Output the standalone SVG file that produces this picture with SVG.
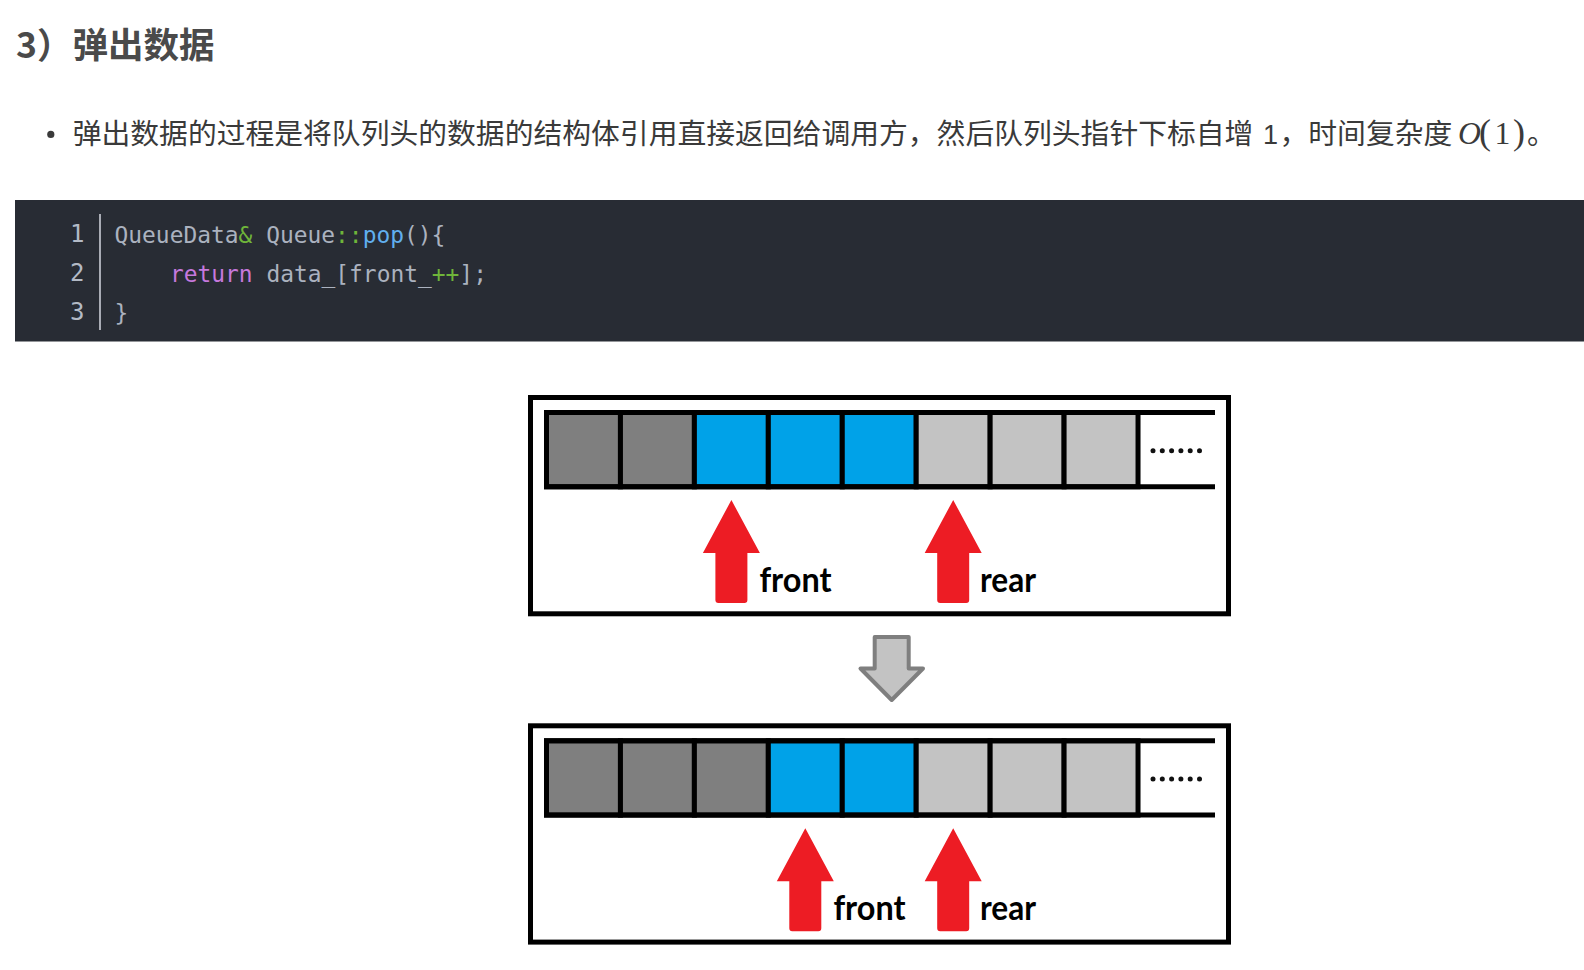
<svg xmlns="http://www.w3.org/2000/svg" width="1584" height="970" viewBox="0 0 1584 970">
  <style>
    .title { font-family: "Noto Sans CJK SC", "Noto Sans", sans-serif; font-weight: 700; font-size: 35.5px; fill: #4a4a4a; }
    .body { font-family: "Noto Sans CJK SC", "Noto Sans", sans-serif; font-size: 28.8px; fill: #3a3a3a; }
    .digit { font-family: "Liberation Sans", "Noto Sans", sans-serif; font-size: 27px; fill: #3a3a3a; }
    .math { font-family: "Liberation Serif", "DejaVu Serif", serif; font-size: 31.7px; fill: #3a3a3a; }
    .mathit { font-style: italic; }
    .paren { font-size: 36px; }
    .lnum { font-family: "DejaVu Sans Mono", "Liberation Mono", monospace; font-size: 24px; fill: #b3bac6; text-anchor: end; }
    .code { font-family: "DejaVu Sans Mono", "Liberation Mono", monospace; font-size: 22.9px; fill: #abb2bf; white-space: pre; }
    .op { fill: #6fb53a; }
    .fn { fill: #61afef; }
    .kw { fill: #c678dd; }
    .frame { fill: #ffffff; stroke: #000000; stroke-width: 5; }
    .rail { stroke: #000000; stroke-width: 5; }
    .cell { stroke: #000000; stroke-width: 5; }
    .d { fill: #7f7f7f; }
    .b { fill: #00a2e8; }
    .l { fill: #c3c3c3; }
    .dot { fill: #111111; }
    .ptr { fill: #ed1c24; }
    .lbl { font-family: "Lato", "Liberation Sans", sans-serif; font-weight: 700; font-size: 34px; fill: #000000; }
    .step { fill: #c3c3c3; stroke: #7f7f7f; stroke-width: 4; stroke-linejoin: round; }
  </style>
  <defs>
    <path id="redArrow" class="ptr" d="M0,0 L28.5,53 L16,53 L16,100 Q16,103 13,103 L-13,103 Q-16,103 -16,100 L-16,53 L-28.5,53 Z"/>
    <g id="dots">
      <circle class="dot" cx="0" cy="0" r="2.5"/>
      <circle class="dot" cx="9.3" cy="0" r="2.5"/>
      <circle class="dot" cx="18.6" cy="0" r="2.5"/>
      <circle class="dot" cx="27.9" cy="0" r="2.5"/>
      <circle class="dot" cx="37.2" cy="0" r="2.5"/>
      <circle class="dot" cx="46.5" cy="0" r="2.5"/>
    </g>
  </defs>

  <rect x="0" y="0" width="1584" height="970" fill="#ffffff"/>

  <g id="heading">
    <text class="title" x="16" y="58">3）弹出数据</text>
  </g>

  <g id="paragraph">
    <circle cx="50.8" cy="134.4" r="3.6" fill="#3a3a3a"/>
    <text class="body" x="72.7" y="143.5">弹出数据的过程是将队列头的数据的结构体引用直接返回给调用方，然后队列头指针下标自增</text>
    <text class="digit" x="1263" y="143.5">1</text>
    <text class="body" x="1279.5" y="143.5">，时间复杂度</text>
    <text class="math mathit" x="1458" y="143.5">O</text>
    <text class="math" y="143.5"><tspan class="paren" x="1479">(</tspan><tspan x="1494.5">1</tspan><tspan class="paren" x="1513">)</tspan></text>
    <text class="body" x="1527" y="143.5">。</text>
  </g>

  <g id="code-block">
    <rect x="15" y="200" width="1569" height="141.5" fill="#282c34"/>
    <line x1="100" y1="214" x2="100" y2="330" stroke="#b8bcc4" stroke-width="1.8"/>
    <text class="lnum" x="84.5" y="241.7">1</text>
    <text class="lnum" x="84.5" y="281">2</text>
    <text class="lnum" x="84.5" y="320.3">3</text>
    <text class="code" x="114.5" y="243">QueueData<tspan class="op">&amp;</tspan> Queue<tspan class="op">::</tspan><tspan class="fn">pop</tspan>(){</text>
    <text class="code" x="169.9" y="282"><tspan class="kw">return</tspan> data_[front_<tspan class="op">++</tspan>];</text>
    <text class="code" x="114.5" y="321">}</text>
  </g>

  <g id="state-before">
    <rect class="frame" x="530.5" y="397.5" width="698" height="216.3"/>
    <rect class="cell d" x="546.5" y="412.5" width="73.94" height="74.3"/>
    <rect class="cell d" x="620.44" y="412.5" width="73.94" height="74.3"/>
    <rect class="cell b" x="694.38" y="412.5" width="73.94" height="74.3"/>
    <rect class="cell b" x="768.32" y="412.5" width="73.94" height="74.3"/>
    <rect class="cell b" x="842.26" y="412.5" width="73.94" height="74.3"/>
    <rect class="cell l" x="916.2" y="412.5" width="73.94" height="74.3"/>
    <rect class="cell l" x="990.14" y="412.5" width="73.94" height="74.3"/>
    <rect class="cell l" x="1064.08" y="412.5" width="73.94" height="74.3"/>
    <line class="rail" x1="544" y1="412.5" x2="1215" y2="412.5"/>
    <line class="rail" x1="544" y1="486.8" x2="1215" y2="486.8"/>
    <use href="#dots" x="1153" y="450.7"/>
    <use href="#redArrow" x="731.4" y="500"/>
    <use href="#redArrow" x="953.2" y="500"/>
    <text class="lbl" x="759.5" y="591.5" textLength="72" lengthAdjust="spacingAndGlyphs">front</text>
    <text class="lbl" x="980" y="591.5" textLength="56" lengthAdjust="spacingAndGlyphs">rear</text>
  </g>

  <g id="connectors">
    <path class="step" d="M874.7,637 L908.7,637 L908.7,668.5 L923,668.5 L891.7,700 L860.5,668.5 L874.7,668.5 Z"/>
  </g>

  <g id="state-after">
    <rect class="frame" x="530.5" y="725.8" width="698" height="216.3"/>
    <rect class="cell d" x="546.5" y="740.8" width="73.94" height="74.3"/>
    <rect class="cell d" x="620.44" y="740.8" width="73.94" height="74.3"/>
    <rect class="cell d" x="694.38" y="740.8" width="73.94" height="74.3"/>
    <rect class="cell b" x="768.32" y="740.8" width="73.94" height="74.3"/>
    <rect class="cell b" x="842.26" y="740.8" width="73.94" height="74.3"/>
    <rect class="cell l" x="916.2" y="740.8" width="73.94" height="74.3"/>
    <rect class="cell l" x="990.14" y="740.8" width="73.94" height="74.3"/>
    <rect class="cell l" x="1064.08" y="740.8" width="73.94" height="74.3"/>
    <line class="rail" x1="544" y1="740.8" x2="1215" y2="740.8"/>
    <line class="rail" x1="544" y1="815.1" x2="1215" y2="815.1"/>
    <use href="#dots" x="1153" y="779"/>
    <use href="#redArrow" x="805.3" y="828.3"/>
    <use href="#redArrow" x="953.2" y="828.3"/>
    <text class="lbl" x="833.5" y="919.8" textLength="72" lengthAdjust="spacingAndGlyphs">front</text>
    <text class="lbl" x="980" y="919.8" textLength="56" lengthAdjust="spacingAndGlyphs">rear</text>
  </g>
</svg>
